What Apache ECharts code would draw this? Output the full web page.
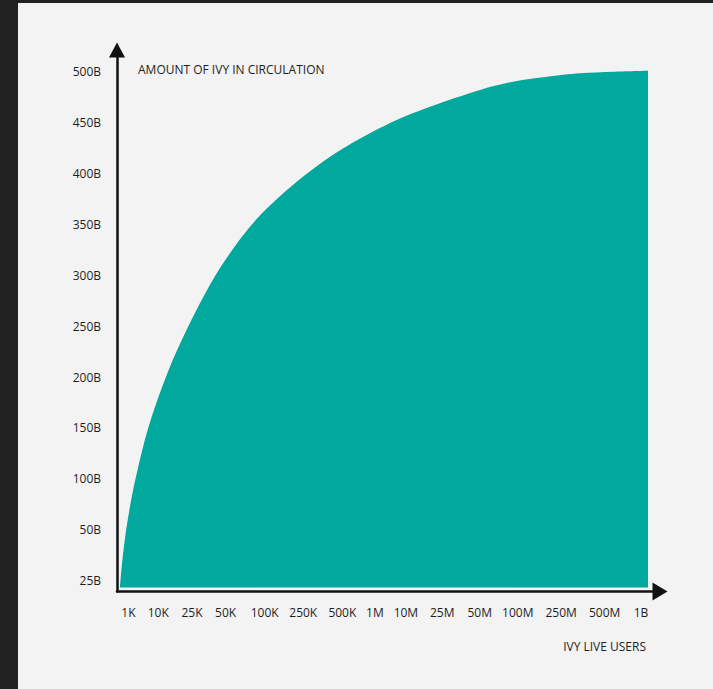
<!DOCTYPE html>
<html>
<head>
<meta charset="utf-8">
<script src="https://cdn.jsdelivr.net/npm/echarts@6/dist/echarts.min.js"></script>
<style>
html,body{margin:0;padding:0;background:#f3f3f3;}
#chart{width:713px;height:689px;}
</style>
</head>
<body>
<div id="chart"></div>
<script>
// Curve samples: position along the user axis (0-100 scale) and IVY amount (billions)
const xPos = [0.55, 0.87, 1.60, 2.71, 3.92, 5.47, 7.31, 9.76, 12.52, 15.60, 18.97, 23.26, 26.94, 33.09, 39.23, 45.36, 51.51, 57.64, 66.85, 72.93, 79.19, 85.27, 91.34, 97.79];
const ivyAmount = [-6.5, 14.0, 46.8, 82.4, 112.1, 144.8, 175.5, 210.1, 242.8, 275.5, 306.9, 339.2, 361.8, 391.5, 416.0, 435.6, 452.0, 465.0, 481.4, 489.5, 494.4, 497.7, 499.3, 500.3];

// X tick labels (live users) and where they sit on the 0-100 axis
const xTickLabels = ['1K','10K','25K','50K','100K','250K','500K','1M','10M','25M','50M','100M','250M','500M','1B'];
const xTickValues = [2.1, 7.6, 13.8, 20.0, 27.2, 34.3, 41.5, 47.5, 53.2, 59.9, 66.8, 73.8, 81.8, 89.8, 96.5];

// Y tick labels (amount in circulation)
const yTickLabels = ['25B','50B','100B','150B','200B','250B','300B','350B','400B','450B','500B'];
const yTickValues = [0, 50, 100, 150, 200, 250, 300, 350, 400, 450, 500];

const yTitle = 'AMOUNT OF IVY IN CIRCULATION';
const xTitle = 'IVY LIVE USERS';

const FONT = 'Open Sans';
const TEXT = '#1e1e1e';

const chart = echarts.init(document.getElementById('chart'), null, {renderer: 'svg'});
chart.setOption({
  backgroundColor: '#f3f3f3',
  animation: false,
  title: [
    {text: yTitle, left: 133, top: 58, padding: 5, textStyle: {fontFamily: FONT, fontSize: 12, fontWeight: 'normal', color: TEXT}},
    {text: xTitle, right: 62, top: 635, padding: 5, textStyle: {fontFamily: FONT, fontSize: 12, fontWeight: 'normal', color: TEXT}}
  ],
  graphic: [
    {type: 'rect', left: 0, top: 0, shape: {width: 18, height: 689}, style: {fill: '#212121'}, z: 100},
    {type: 'rect', left: 0, top: 0, shape: {width: 713, height: 3}, style: {fill: '#212121'}, z: 100}
  ],
  grid: {left: 117, right: 53, top: 50, bottom: 97.5, containLabel: false},
  xAxis: {
    type: 'value', min: 0, max: 100,
    splitLine: {show: false},
    axisTick: {show: false},
    axisLine: {onZero: false, symbol: ['none', 'triangle'], symbolSize: [18, 15],
      lineStyle: {color: '#111', width: 2.5}},
    axisLabel: {
      customValues: xTickValues,
      formatter: function (v) { const i = xTickValues.indexOf(v); return i >= 0 ? xTickLabels[i] : ''; },
      fontFamily: FONT, fontSize: 12, color: TEXT, margin: 15
    }
  },
  yAxis: {
    type: 'value', min: -10.3, max: 520.6,
    splitLine: {show: false},
    axisTick: {show: false},
    axisLine: {onZero: false, symbol: ['none', 'triangle'], symbolSize: [16, 15],
      lineStyle: {color: '#111', width: 2.5}},
    axisLabel: {
      customValues: yTickValues,
      formatter: function (v) { const i = yTickValues.indexOf(v); return i >= 0 ? yTickLabels[i] : ''; },
      fontFamily: FONT, fontSize: 12, color: TEXT, margin: 16
    }
  },
  series: [{
    type: 'line',
    data: xPos.map((x, i) => [x, ivyAmount[i]]),
    smooth: 0.3,
    showSymbol: false,
    lineStyle: {width: 0},
    areaStyle: {color: '#00a89d', opacity: 1, origin: -6.5}
  }]
});
</script>
</body>
</html>
